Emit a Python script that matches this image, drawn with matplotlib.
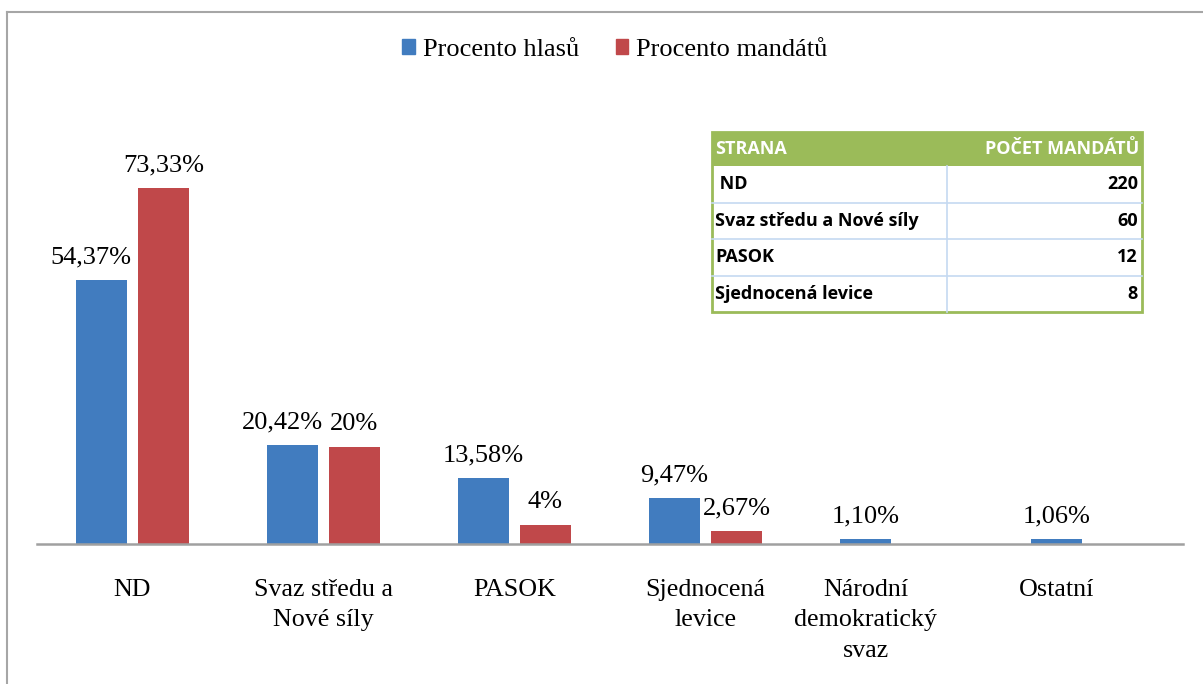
import numpy as np
import matplotlib.pyplot as plt
from matplotlib.patches import Rectangle
from matplotlib.lines import Line2D

# data
strany = ["ND", "Svaz středu a\nNové síly", "PASOK", "Sjednocená\nlevice",
          "Národní\ndemokratický\nsvaz", "Ostatní"]
hlasy = [54.37, 20.42, 13.58, 9.47, 1.10, 1.06]
mandaty = [73.33, 20, 4, 2.67, 0, 0]
hlasy_lbl = ["54,37%", "20,42%", "13,58%", "9,47%", "1,10%", "1,06%"]
mandaty_lbl = ["73,33%", "20%", "4%", "2,67%", "", ""]

tab_hlavicka = ["STRANA", "POČET MANDÁTŮ"]
tab_strany = [" ND", "Svaz středu a Nové síly", "PASOK", "Sjednocená levice"]
tab_pocet = ["220", "60", "12", "8"]

modra = "#417CBF"
cervena = "#C0484A"
zelena = "#9BBB59"

W, H = 1203, 684
fig = plt.figure(figsize=(W / 100, H / 100), dpi=100)
plt.rcParams['font.family'] = ['Liberation Serif', 'DejaVu Serif']

# osa v pixelech
x0, x1, y_base = 37, 1183, 544
ymax = 80
px_per = 356 / 73.33
y_top = y_base - ymax * px_per
ax = fig.add_axes([x0 / W, 1 - y_base / H, (x1 - x0) / W, (y_base - y_top) / H])

x = np.arange(len(strany))
sirka = 0.267
posun = 0.162
bars_h = ax.bar(x - posun, hlasy, sirka, color=modra)
bars_m = ax.bar(x + posun, mandaty, sirka, color=cervena)

ax.set_xlim(-0.5, len(strany) - 0.5)
ax.set_ylim(0, ymax)

texty_h = []
texty_m = []
for xi, v, t in zip(x, hlasy, hlasy_lbl):
    texty_h.append(ax.text(xi - posun, v + 2.4, t, ha="center", va="bottom", fontsize=19))
for xi, v, t in zip(x, mandaty, mandaty_lbl):
    texty_m.append(ax.text(xi + posun, v + 2.4, t, ha="center", va="bottom", fontsize=19)
                   if t else None)

# kdyz se popisek modreho sloupce prekryva s cervenym, zarovnat doprava
fig.canvas.draw()
r = fig.canvas.get_renderer()
for i, th in enumerate(texty_h):
    bb = th.get_window_extent(r)
    prekryv = bb.overlaps(bars_m[i].get_window_extent(r)) and mandaty[i] > 0
    if texty_m[i] is not None and bb.overlaps(texty_m[i].get_window_extent(r)):
        prekryv = True
    if prekryv:
        th.set_ha("right")
        th.set_x(x[i] - posun + sirka / 2 + 0.025)

# popisky pod samotnym modrym sloupcem, kde mandaty nejsou
tick_x = [xi if m > 0 else xi - posun for xi, m in zip(x, mandaty)]

ax.set_yticks([])
ax.set_xticks(tick_x)
ax.set_xticklabels(strany, fontsize=18.7, linespacing=1.5, va="top")
ax.tick_params(axis="x", length=0, pad=25)
for s in ["top", "right", "left"]:
    ax.spines[s].set_visible(False)
ax.spines["bottom"].set_color("#A0A0A0")
ax.spines["bottom"].set_linewidth(1.8)
ax.patch.set_alpha(0)

# legenda
handles = [Rectangle((0, 0), 1, 1, color=modra), Rectangle((0, 0), 1, 1, color=cervena)]
fig.legend(handles, ["Procento hlasů", "Procento mandátů"], loc="center",
           bbox_to_anchor=(615 / W, 1 - 50 / H), ncol=2, frameon=False,
           fontsize=19, handlelength=0.47, handleheight=0.47,
           handletextpad=0.3, columnspacing=1.4)

# ramecek
fig.add_artist(Line2D([7 / W, 1], [1 - 12 / H, 1 - 12 / H], color="#A6A6A6", lw=1.5))
fig.add_artist(Line2D([7 / W, 7 / W], [0, 1 - 12 / H], color="#A6A6A6", lw=1.5))

# tabulka
tx0, tx1, tdiv = 712, 1142, 947
ty0, th_head, th_row = 132, 34, 36.5
def fx(px):
    return px / W
def fy(py):
    return 1 - py / H

tab_font = dict(family="Open Sans", weight="bold", fontsize=13)
fig.add_artist(Rectangle((fx(tx0), fy(ty0 + th_head)), (tx1 - tx0) / W,
                         th_head / H, transform=fig.transFigure, color=zelena, lw=0))
fig.text(fx(tx0 + 3), fy(ty0 + th_head / 2), tab_hlavicka[0], color="white",
         va="center", ha="left", **tab_font)
fig.text(fx(tx1 - 3), fy(ty0 + th_head / 2), tab_hlavicka[1], color="white",
         va="center", ha="right", **tab_font)

ty_rows = ty0 + th_head
for i, (s, p) in enumerate(zip(tab_strany, tab_pocet)):
    yc = ty_rows + th_row * (i + 0.5)
    fig.text(fx(tx0 + 3), fy(yc), s, color="black", va="center", ha="left", **tab_font)
    fig.text(fx(tx1 - 4), fy(yc), p, color="black", va="center", ha="right", **tab_font)
    if i > 0:
        yl = ty_rows + th_row * i
        fig.add_artist(Line2D([fx(tx0), fx(tx1)], [fy(yl), fy(yl)],
                              color="#C5D9F1", lw=1.2))
ty_end = ty_rows + th_row * len(tab_strany)
fig.add_artist(Line2D([fx(tdiv), fx(tdiv)], [fy(ty_rows), fy(ty_end)],
                      color="#C5D9F1", lw=1.2))
fig.add_artist(Rectangle((fx(tx0), fy(ty_end)), (tx1 - tx0) / W, (ty_end - ty0) / H,
                         transform=fig.transFigure, fill=False, edgecolor=zelena, lw=2))

fig.savefig("out.png", dpi=100)
